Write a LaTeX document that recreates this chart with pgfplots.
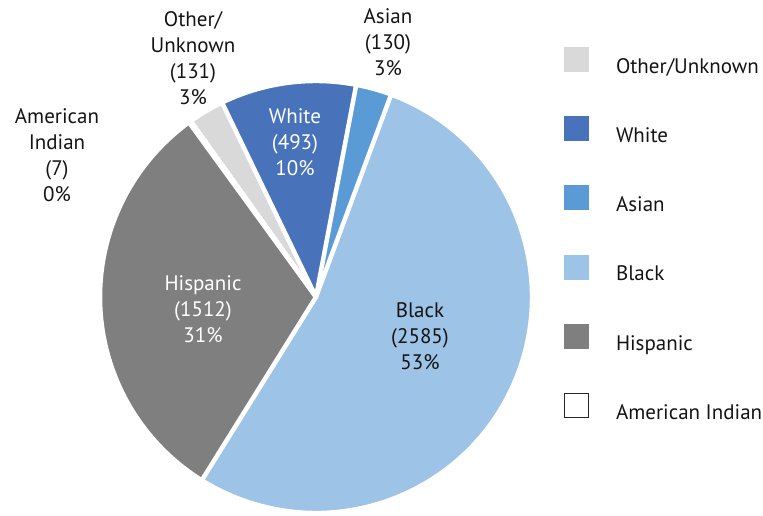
\documentclass[border=0pt]{standalone}
\usepackage{pgfplots}
\pgfplotsset{compat=1.18}
\usepackage{pgfplotstable}
\usepackage{fontspec}
\setmainfont{PT Sans}
\definecolor{cOther}{RGB}{217,217,217}
\definecolor{cWhite}{RGB}{72,114,186}
\definecolor{cAsian}{RGB}{91,155,213}
\definecolor{cBlack}{RGB}{157,195,230}
\definecolor{cHisp}{RGB}{127,127,127}
\definecolor{cText}{RGB}{20,20,20}
\newcommand\lab{\fontsize{21}{26}\selectfont}

\pgfplotstableread[col sep=comma]{
label,count,color
Other/Unknown,131,cOther
White,493,cWhite
Asian,130,cAsian
Black,2585,cBlack
Hispanic,1512,cHisp
American Indian,7,white
}\piedata

% total and cumulative angles (clockwise, Excel style)
\xdef\pietotal{0}
\foreach \i in {0,...,5}{%
  \pgfplotstablegetelem{\i}{count}\of\piedata
  \pgfmathparse{\pietotal+\pgfplotsretval}\xdef\pietotal{\pgfmathresult}}
\expandafter\xdef\csname pieang0\endcsname{125.5}
\foreach \i in {0,...,5}{%
  \pgfplotstablegetelem{\i}{count}\of\piedata
  \edef\cnt{\pgfplotsretval}%
  \edef\a{\csname pieang\i\endcsname}%
  \pgfmathparse{\a-360*(\cnt/\pietotal)}%
  \edef\b{\pgfmathresult}%
  \pgfmathtruncatemacro\j{\i+1}%
  \expandafter\xdef\csname pieang\j\endcsname{\b}%
  \pgfplotstablegetelem{\i}{color}\of\piedata
  \expandafter\xdef\csname piecol\i\endcsname{\pgfplotsretval}}

\begin{document}
\begin{tikzpicture}
\begin{axis}[
  name=ax,
  width=763pt, height=515pt, scale only axis,
  xmin=0, xmax=763, ymin=0, ymax=515,
  axis lines=none, clip=false,
  legend cell align=left,
  legend image code/.code={\draw[#1] (0pt,-5pt) rectangle (24pt,19pt);},
  legend style={draw=none, fill=none, inner sep=0pt, outer sep=0pt,
    at={(axis cs:564,468)}, anchor=north west,
    font=\lab, text=cText,
    nodes={inner sep=0pt, text height=19pt, text depth=5pt},
    row sep=38pt,
    /tikz/every odd column/.append style={column sep=27pt}},
]
\pgfplotsinvokeforeach{0,...,5}{
  \pgfmathtruncatemacro\jj{#1+1}
  \fill[fill=\csname piecol#1\endcsname, draw=white, line width=4.5pt, line join=round]
    (axis cs:316,218) -- ++(\csname pieang#1\endcsname:216pt)
    arc[start angle=\csname pieang#1\endcsname, end angle=\csname pieang\jj\endcsname, radius=216pt] -- cycle;
}
\addlegendimage{fill=cOther, draw=cOther}\addlegendentry{Other/Unknown}
\addlegendimage{fill=cWhite, draw=cWhite}\addlegendentry{White}
\addlegendimage{fill=cAsian, draw=cAsian}\addlegendentry{Asian}
\addlegendimage{fill=cBlack, draw=cBlack}\addlegendentry{Black}
\addlegendimage{fill=cHisp, draw=cHisp}\addlegendentry{Hispanic}
\addlegendimage{fill=white, draw=black!85, line width=1pt}\addlegendentry{American Indian}

\node[align=center, font=\lab, text=cText] at (axis cs:193,457) {Other/\\Unknown\\(131)\\3\%};
\node[align=center, font=\lab, text=cText] at (axis cs:388,473) {Asian\\(130)\\3\%};
\node[align=center, font=\lab, text=white] at (axis cs:295,373) {White\\(493)\\10\%};
\node[align=center, font=\lab, text=cText] at (axis cs:57,360) {American\\Indian\\(7)\\0\%};
\node[align=center, font=\lab, text=white] at (axis cs:203,206) {Hispanic\\(1512)\\31\%};
\node[align=center, font=\lab, text=cText] at (axis cs:420,179) {Black\\(2585)\\53\%};
\end{axis}
\pgfresetboundingbox
\path (ax.south west) rectangle (ax.north east);
\end{tikzpicture}
\end{document}
